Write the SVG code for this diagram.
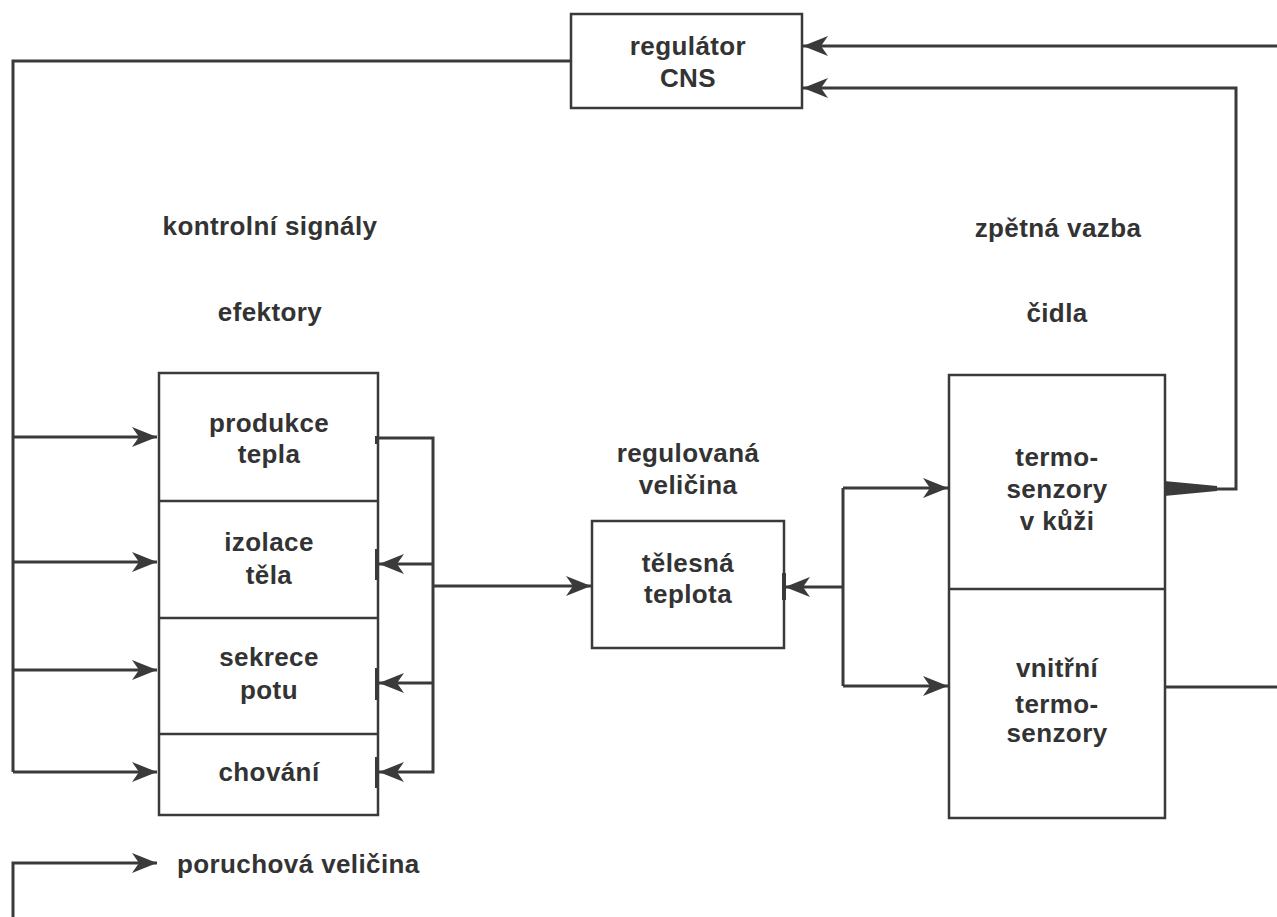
<svg xmlns="http://www.w3.org/2000/svg" width="1277" height="917" viewBox="0 0 1277 917">
  <style>
    .box { fill: none; stroke: #3a3a3a; stroke-width: 2.5; }
    .div { stroke: #3a3a3a; stroke-width: 2.5; }
    .wire { fill: none; stroke: #3a3a3a; stroke-width: 3; }
    .tick { stroke: #3a3a3a; stroke-width: 4; }
    .lbl { font-family: "Liberation Sans", Arial, sans-serif; font-weight: bold; font-size: 26px; letter-spacing: 0.4px; fill: #333333; text-anchor: middle; }
    .left { text-anchor: start; }
  </style>
  <defs>
    <marker id="arrow" markerUnits="userSpaceOnUse" viewBox="-27 -12 29 24" refX="0" refY="0" markerWidth="29" markerHeight="24" orient="auto">
      <path d="M0,0 L-25,-10 L-18,0 L-25,10 Z" fill="#3a3a3a"/>
    </marker>
  </defs>
  <rect width="1277" height="917" fill="#ffffff"/>

  <!-- regulator -->
  <g id="regulator">
    <rect class="box" x="571" y="14" width="231" height="94"/>
    <text class="lbl" x="688" y="55">regulátor</text>
    <text class="lbl" x="688" y="87">CNS</text>
  </g>

  <!-- column headings -->
  <g id="heading-control">
    <text class="lbl" x="270" y="235">kontrolní signály</text>
  </g>
  <g id="heading-effectors">
    <text class="lbl" x="270" y="321">efektory</text>
  </g>
  <g id="heading-feedback">
    <text class="lbl" x="1058" y="237">zpětná vazba</text>
  </g>
  <g id="heading-sensors">
    <text class="lbl" x="1057" y="322">čidla</text>
  </g>

  <!-- effector stack -->
  <g id="effectors">
    <rect class="box" x="159" y="373" width="219" height="442"/>
    <line class="div" x1="159" y1="501" x2="378" y2="501"/>
    <line class="div" x1="159" y1="618" x2="378" y2="618"/>
    <line class="div" x1="159" y1="734" x2="378" y2="734"/>
  </g>
  <g id="heat-production">
    <text class="lbl" x="269" y="432">produkce</text>
    <text class="lbl" x="269" y="463">tepla</text>
  </g>
  <g id="body-insulation">
    <text class="lbl" x="269" y="551">izolace</text>
    <text class="lbl" x="269" y="584">těla</text>
  </g>
  <g id="sweating">
    <text class="lbl" x="269" y="666">sekrece</text>
    <text class="lbl" x="269" y="699">potu</text>
  </g>
  <g id="behaviour">
    <text class="lbl" x="269" y="781">chování</text>
  </g>

  <!-- controlled variable -->
  <g id="controlled-variable">
    <text class="lbl" x="688" y="462">regulovaná</text>
    <text class="lbl" x="688" y="494">veličina</text>
  </g>
  <g id="body-temperature">
    <rect class="box" x="592" y="521" width="192" height="127"/>
    <text class="lbl" x="688" y="572">tělesná</text>
    <text class="lbl" x="688" y="603">teplota</text>
  </g>

  <!-- sensor stack -->
  <g id="sensors">
    <rect class="box" x="949" y="375" width="216" height="443"/>
    <line class="div" x1="949" y1="589" x2="1165" y2="589"/>
  </g>
  <g id="skin-sensors">
    <text class="lbl" x="1057" y="466">termo-</text>
    <text class="lbl" x="1057" y="498">senzory</text>
    <text class="lbl" x="1057" y="530">v kůži</text>
  </g>
  <g id="internal-sensors">
    <text class="lbl" x="1057" y="677">vnitřní</text>
    <text class="lbl" x="1057" y="713">termo-</text>
    <text class="lbl" x="1057" y="742">senzory</text>
  </g>

  <!-- disturbance legend -->
  <g id="disturbance">
    <text class="lbl left" x="177" y="873">poruchová veličina</text>
  </g>

  <g id="connectors">
    <!-- control signals from the regulator to the effectors -->
    <path class="wire" d="M571,61 H13 V772"/>
    <path class="wire" d="M13,437 H157" marker-end="url(#arrow)"/>
    <path class="wire" d="M13,562 H157" marker-end="url(#arrow)"/>
    <path class="wire" d="M13,670 H157" marker-end="url(#arrow)"/>
    <path class="wire" d="M13,772 H157" marker-end="url(#arrow)"/>

    <!-- effector outputs bus -->
    <path class="wire" d="M378,438 H433 V772 H379" marker-end="url(#arrow)"/>
    <path class="wire" d="M433,564 H379" marker-end="url(#arrow)"/>
    <path class="wire" d="M433,683 H379" marker-end="url(#arrow)"/>
    <path class="wire" d="M433,586 H591" marker-end="url(#arrow)"/>
    <line class="tick" x1="377" y1="436" x2="377" y2="444"/>
    <line class="tick" x1="377" y1="549" x2="377" y2="580"/>
    <line class="tick" x1="377" y1="668" x2="377" y2="700"/>
    <line class="tick" x1="377" y1="757" x2="377" y2="788"/>

    <!-- body temperature to sensors -->
    <path class="wire" d="M843,587 H785" marker-end="url(#arrow)"/>
    <line class="tick" x1="784" y1="573" x2="784" y2="600"/>
    <path class="wire" d="M843,488 V686"/>
    <path class="wire" d="M843,488 H948" marker-end="url(#arrow)"/>
    <path class="wire" d="M843,686 H948" marker-end="url(#arrow)"/>

    <!-- feedback to the regulator -->
    <polygon points="1164,481 1164,496 1217,491 1217,486" fill="#3a3a3a"/>
    <path class="wire" d="M1165,489 H1236 V88 H803" marker-end="url(#arrow)"/>
    <path class="wire" d="M1277,46 H803" marker-end="url(#arrow)"/>
    <path class="wire" d="M1165,687 H1277"/>

    <!-- disturbance arrow -->
    <path class="wire" d="M13,917 V863 H157" marker-end="url(#arrow)"/>
  </g>
</svg>
